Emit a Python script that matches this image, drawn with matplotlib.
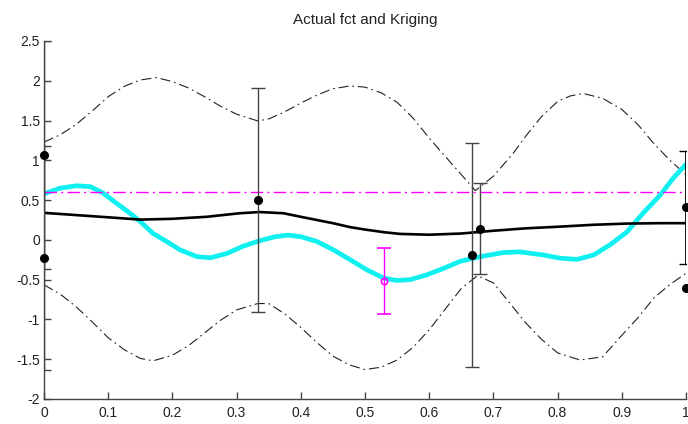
import matplotlib
matplotlib.use("Agg")
import matplotlib.pyplot as plt

plt.rcParams['font.family'] = ['Liberation Sans', 'DejaVu Sans']

# Kriging upper bound (dash-dot)
upper_x = [0, 0.025, 0.05, 0.075, 0.1, 0.125, 0.15, 0.175, 0.2, 0.225, 0.25, 0.275, 0.3, 0.333,
           0.35, 0.375, 0.4, 0.425, 0.45, 0.477, 0.5, 0.525, 0.55, 0.575, 0.6, 0.625, 0.65, 0.672,
           0.7, 0.731, 0.75, 0.775, 0.8, 0.82, 0.84, 0.87, 0.9, 0.925, 0.95, 0.975, 1.0]
upper_y = [1.23, 1.32, 1.45, 1.62, 1.80, 1.93, 2.01, 2.04, 1.99, 1.91, 1.80, 1.68, 1.58, 1.495,
           1.52, 1.61, 1.72, 1.82, 1.90, 1.935, 1.92, 1.85, 1.73, 1.53, 1.28, 1.05, 0.82, 0.62,
           0.80, 1.09, 1.30, 1.55, 1.74, 1.81, 1.84, 1.78, 1.64, 1.45, 1.21, 1.00, 0.82]

# Kriging lower bound (dash-dot)
lower_x = [0, 0.025, 0.05, 0.075, 0.1, 0.125, 0.15, 0.17, 0.2, 0.225, 0.25, 0.275, 0.3, 0.333,
           0.35, 0.375, 0.4, 0.425, 0.45, 0.475, 0.5, 0.525, 0.55, 0.575, 0.6, 0.625, 0.65, 0.675,
           0.7, 0.725, 0.75, 0.775, 0.8, 0.835, 0.87, 0.9, 0.925, 0.95, 0.975, 1.0]
lower_y = [-0.565, -0.68, -0.84, -1.03, -1.23, -1.38, -1.49, -1.52, -1.45, -1.33, -1.17, -1.01,
           -0.88, -0.80, -0.80, -0.93, -1.10, -1.29, -1.46, -1.57, -1.63, -1.60, -1.51, -1.35,
           -1.13, -0.87, -0.61, -0.45, -0.54, -0.79, -1.04, -1.25, -1.42, -1.51, -1.47, -1.20,
           -0.98, -0.73, -0.56, -0.42]

# Kriging mean (thick black)
mean_x = [0, 0.046, 0.098, 0.15, 0.2, 0.253, 0.305, 0.336, 0.373, 0.4, 0.425, 0.45, 0.477, 0.5,
          0.53, 0.555, 0.6, 0.65, 0.7, 0.75, 0.8, 0.856, 0.908, 0.96, 1.0]
mean_y = [0.34, 0.314, 0.285, 0.255, 0.265, 0.29, 0.335, 0.35, 0.335, 0.29, 0.25, 0.21, 0.16, 0.13,
          0.096, 0.075, 0.065, 0.08, 0.115, 0.145, 0.165, 0.19, 0.205, 0.21, 0.21]

# Actual function (cyan)
fct_x = [0, 0.025, 0.05, 0.072, 0.092, 0.113, 0.134, 0.15, 0.17, 0.191, 0.212, 0.238, 0.259,
         0.285, 0.31, 0.336, 0.36, 0.38, 0.40, 0.425, 0.451, 0.477, 0.503, 0.529, 0.55, 0.57,
         0.596, 0.622, 0.648, 0.68, 0.715, 0.741, 0.778, 0.804, 0.83, 0.856, 0.882, 0.908,
         0.933, 0.96, 0.98, 1.0]
fct_y = [0.58, 0.65, 0.68, 0.67, 0.59, 0.46, 0.335, 0.23, 0.08, -0.02, -0.126, -0.21, -0.225,
         -0.17, -0.08, -0.01, 0.04, 0.06, 0.04, -0.02, -0.126, -0.25, -0.377, -0.48, -0.51, -0.50,
         -0.44, -0.36, -0.27, -0.21, -0.16, -0.15, -0.19, -0.23, -0.245, -0.19, -0.06, 0.10,
         0.335, 0.565, 0.775, 0.95]

# Observations with error bars
obs_x = [0, 0, 0.333, 0.667, 0.679]
obs_y = [1.07, -0.23, 0.5, -0.19, 0.14]
obs_err = [1.43, 1.41, 1.41, 1.41, 0.575]
edge_x = [1.0]
edge_y = [0.41]
edge_err = [0.71]
extra_x = [1.0]
extra_y = [-0.6]

# Magenta point with error bar
new_x = [0.53]
new_y = [-0.52]
new_err = [0.415]
level = 0.6

xticks = [0, 0.1, 0.2, 0.3, 0.4, 0.5, 0.6, 0.7, 0.8, 0.9, 1]
xticklabels = ["0", "0.1", "0.2", "0.3", "0.4", "0.5", "0.6", "0.7", "0.8", "0.9", "1"]
yticks = [-2, -1.5, -1, -0.5, 0, 0.5, 1, 1.5, 2, 2.5]
yticklabels = ["-2", "-1.5", "-1", "-0.5", "0", "0.5", "1", "1.5", "2", "2.5"]

fig = plt.figure(figsize=(6.88, 4.24), dpi=100)
ax = fig.add_axes([44 / 688, (424 - 399) / 424, (686 - 44) / 688, (399 - 41) / 424])

dd = (0, (9, 3.5, 1.5, 3.5))
ax.plot(upper_x, upper_y, color='#222222', lw=0.8, linestyle=dd)
ax.plot(lower_x, lower_y, color='#222222', lw=0.8, linestyle=dd)
ax.plot(fct_x, fct_y, color='#10f0f0', lw=3.4, solid_capstyle='butt', solid_joinstyle='round')
ax.axhline(level, color='#ff00ff', lw=1.0, linestyle=(0, (9, 3, 1.5, 3)))
ax.plot(mean_x, mean_y, color='black', lw=1.9)

ax.errorbar(obs_x, obs_y, yerr=obs_err, fmt='none', ecolor='#444444', elinewidth=1.0,
            capsize=4.8, capthick=1.0)
ax.errorbar(edge_x, edge_y, yerr=edge_err, fmt='none', ecolor='black', elinewidth=2.0,
            capsize=4.8, capthick=1.0)
ax.errorbar(new_x, new_y, yerr=new_err, fmt='o', color='#ff00ff', mfc='none', mec='#ff00ff',
            ms=4.5, mew=1.2, ecolor='#ff00ff', elinewidth=1.0, capsize=4.8, capthick=1.0)

ax.plot(obs_x + edge_x + extra_x, obs_y + edge_y + extra_y, 'o', color='black', ms=5.5,
        clip_on=False, zorder=5)

ax.set_xlim(0, 1)
ax.set_ylim(-2, 2.5)
ax.set_xticks(xticks)
ax.set_xticklabels(xticklabels)
ax.set_yticks(yticks)
ax.set_yticklabels(yticklabels)
for s in ['top', 'right']:
    ax.spines[s].set_visible(False)
for s in ['left', 'bottom']:
    ax.spines[s].set_color('#444444')
    ax.spines[s].set_linewidth(1.0)
ax.tick_params(direction='in', length=5, width=1.0, color='#444444', labelsize=10,
               labelcolor='#222222')
ax.tick_params(axis='x', pad=5)
ax.tick_params(axis='y', pad=3)

ax.set_title("Actual fct and Kriging", fontsize=11, color='#222222', pad=12)

fig.savefig("out.png", dpi=100)
